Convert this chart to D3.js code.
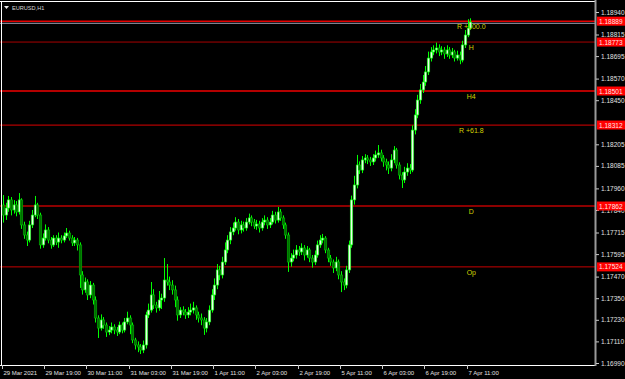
<!DOCTYPE html>
<html><head><meta charset="utf-8">
<script src="https://cdn.jsdelivr.net/npm/d3@7"></script>
<style>html,body{margin:0;padding:0;background:#000;overflow:hidden}</style>
</head><body>
<svg id="c" width="625" height="379"></svg>
<script>
const symbol = "EURUSD,H1";
const firstOpen = 1.17868;
const closes = [
1.17812,1.17851,1.17896,1.17840,1.17868,1.17829,1.17896,1.17757,1.17701,1.17673,
1.17757,1.17812,1.17868,1.17812,1.17646,1.17684,1.17729,1.17673,1.17646,1.17684,
1.17662,1.17684,1.17673,1.17696,1.17712,1.17684,1.17657,1.17673,1.17646,1.17479,
1.17396,1.17440,1.17368,1.17423,1.17340,1.17240,1.17184,1.17229,1.17201,1.17162,
1.17173,1.17190,1.17173,1.17162,1.17201,1.17173,1.17218,1.17240,1.17201,1.17118,
1.17090,1.17079,1.17062,1.17090,1.17257,1.17284,1.17368,1.17312,1.17296,1.17340,
1.17351,1.17451,1.17440,1.17423,1.17396,1.17340,1.17257,1.17284,1.17273,1.17257,
1.17273,1.17284,1.17296,1.17257,1.17240,1.17229,1.17184,1.17218,1.17284,1.17368,
1.17423,1.17507,1.17479,1.17551,1.17618,1.17673,1.17718,1.17740,1.17773,1.17729,
1.17757,1.17740,1.17773,1.17796,1.17773,1.17751,1.17762,1.17740,1.17773,1.17784,
1.17757,1.17773,1.17812,1.17784,1.17829,1.17796,1.17757,1.17701,1.17551,1.17573,
1.17590,1.17618,1.17607,1.17629,1.17590,1.17618,1.17573,1.17551,1.17590,1.17646,
1.17673,1.17684,1.17618,1.17573,1.17551,1.17518,1.17551,1.17479,1.17440,1.17423,
1.17507,1.17646,1.17896,1.17979,1.18090,1.18062,1.18118,1.18129,1.18118,1.18107,
1.18129,1.18146,1.18157,1.18129,1.18107,1.18090,1.18073,1.18118,1.18173,1.18090,
1.18034,1.18007,1.18051,1.18073,1.18062,1.18284,1.18368,1.18451,1.18507,1.18551,
1.18607,1.18684,1.18718,1.18729,1.18740,1.18718,1.18729,1.18707,1.18729,1.18701,
1.18718,1.18684,1.18701,1.18673,1.18757,1.18812,1.18851,1.18884];
const highs = [
1.17923,1.17880,1.17918,1.17912,1.17895,1.17890,1.17934,1.17905,1.17775,1.17720,
1.17780,1.17840,1.17918,1.17880,1.17825,1.17710,1.17760,1.17745,1.17690,1.17700,
1.17700,1.17715,1.17700,1.17715,1.17740,1.17725,1.17700,1.17690,1.17685,1.17660,
1.17500,1.17465,1.17455,1.17445,1.17435,1.17360,1.17255,1.17260,1.17245,1.17215,
1.17195,1.17215,1.17205,1.17190,1.17220,1.17215,1.17240,1.17275,1.17255,1.17215,
1.17130,1.17110,1.17095,1.17115,1.17275,1.17320,1.17440,1.17400,1.17330,1.17390,
1.17375,1.17573,1.17540,1.17470,1.17450,1.17420,1.17360,1.17300,1.17305,1.17290,
1.17300,1.17320,1.17330,1.17310,1.17275,1.17265,1.17245,1.17240,1.17310,1.17400,
1.17460,1.17540,1.17530,1.17580,1.17660,1.17700,1.17745,1.17770,1.17800,1.17790,
1.17780,1.17775,1.17795,1.17820,1.17810,1.17790,1.17785,1.17780,1.17795,1.17810,
1.17800,1.17795,1.17835,1.17830,1.17857,1.17845,1.17810,1.17770,1.17715,1.17600,
1.17620,1.17645,1.17640,1.17655,1.17645,1.17640,1.17630,1.17590,1.17615,1.17670,
1.17700,1.17707,1.17695,1.17630,1.17590,1.17565,1.17580,1.17565,1.17500,1.17460,
1.17530,1.17670,1.17920,1.18030,1.18146,1.18110,1.18140,1.18150,1.18145,1.18135,
1.18150,1.18170,1.18201,1.18175,1.18145,1.18125,1.18110,1.18150,1.18195,1.18185,
1.18105,1.18050,1.18080,1.18100,1.18095,1.18310,1.18400,1.18480,1.18540,1.18590,
1.18640,1.18720,1.18745,1.18755,1.18770,1.18760,1.18750,1.18745,1.18755,1.18745,
1.18740,1.18730,1.18725,1.18720,1.18780,1.18840,1.18900,1.18905];
const lows = [
1.17770,1.17785,1.17830,1.17810,1.17820,1.17805,1.17815,1.17735,1.17680,1.17640,
1.17660,1.17740,1.17800,1.17790,1.17625,1.17630,1.17670,1.17655,1.17625,1.17635,
1.17645,1.17630,1.17655,1.17660,1.17685,1.17670,1.17640,1.17640,1.17615,1.17407,
1.17370,1.17380,1.17340,1.17350,1.17315,1.17215,1.17129,1.17170,1.17180,1.17135,
1.17145,1.17155,1.17150,1.17140,1.17150,1.17155,1.17160,1.17205,1.17150,1.17100,
1.17065,1.17050,1.17040,1.17045,1.17070,1.17240,1.17270,1.17290,1.17270,1.17280,
1.17290,1.17330,1.17420,1.17395,1.17370,1.17300,1.17225,1.17240,1.17255,1.17235,
1.17240,1.17255,1.17265,1.17230,1.17215,1.17200,1.17146,1.17160,1.17200,1.17270,
1.17340,1.17400,1.17450,1.17460,1.17535,1.17600,1.17650,1.17700,1.17725,1.17705,
1.17710,1.17720,1.17725,1.17760,1.17750,1.17735,1.17730,1.17715,1.17725,1.17755,
1.17735,1.17740,1.17760,1.17765,1.17770,1.17780,1.17735,1.17680,1.17496,1.17525,
1.17555,1.17570,1.17585,1.17590,1.17560,1.17575,1.17550,1.17520,1.17535,1.17575,
1.17630,1.17655,1.17600,1.17550,1.17530,1.17490,1.17500,1.17455,1.17384,1.17395,
1.17405,1.17490,1.17630,1.17870,1.17960,1.18040,1.18045,1.18100,1.18095,1.18085,
1.18090,1.18110,1.18130,1.18110,1.18080,1.18060,1.18040,1.18055,1.18100,1.18070,
1.18010,1.17962,1.17990,1.18030,1.18040,1.18050,1.18260,1.18350,1.18430,1.18490,
1.18530,1.18590,1.18665,1.18700,1.18710,1.18695,1.18700,1.18680,1.18690,1.18680,
1.18685,1.18665,1.18670,1.18650,1.18660,1.18740,1.18800,1.18840];
const opens = [firstOpen].concat(closes.slice(0, -1));

const priceTicks = [1.18940,1.18815,1.18695,1.18570,1.18450,1.18205,1.18085,
  1.17960,1.17840,1.17715,1.17595,1.17470,1.17350,1.17230,1.17110,1.16990];
const timeLabels = ["29 Mar 2021","29 Mar 19:00","30 Mar 11:00","31 Mar 03:00","31 Mar 19:00",
  "1 Apr 11:00","2 Apr 03:00","2 Apr 19:00","5 Apr 11:00","6 Apr 03:00","6 Apr 19:00","7 Apr 11:00"];
const timeTickBars = [0,16,32,48,64,80,96,112,128,144,160,176];

const levelValues = [1.18889,1.18773,1.18501,1.18312,1.17862,1.17524];
const levelNames  = ["R +100.0","H","H4","R +61.8","D","Op"];
const levelColors = ["#e80000","#a80000","#f00000","#b00000","#8c0000","#c80000"];
const levelWidths = [1.5,1,1.5,1.2,2,1];
const bidPrice = 1.18880;

const W = 625, H = 379;
const plotRight = 595, plotBottom = 365;
const svg = d3.select("#c");
svg.append("rect").attr("width", W).attr("height", H).attr("fill", "#000");

const x = d3.scaleLinear().domain([0, closes.length - 1]).range([3, 470.3]);
const y = d3.scaleLinear().domain([1.16990, 1.18940]).range([363, 12]);

const font = "'Liberation Sans', Arial, sans-serif";

// level lines
const lv = levelValues.map((v, i) => ({v, name: levelNames[i], color: levelColors[i], w: levelWidths[i]}));
svg.append("g").selectAll("line").data(lv).join("line")
  .attr("x1", 0).attr("x2", plotRight)
  .attr("y1", d => y(d.v)).attr("y2", d => y(d.v))
  .attr("stroke", d => d.color).attr("stroke-width", d => d.w);

// bid line
svg.append("line").attr("x1", 0).attr("x2", plotRight)
  .attr("y1", y(bidPrice) + 0.5).attr("y2", y(bidPrice) + 0.5)
  .attr("stroke", "#a0a0b4").attr("stroke-width", 1);

// candles
const bars = closes.map((c, i) => ({i, o: opens[i], c, h: highs[i], l: lows[i]}));
const g = svg.append("g");
g.selectAll("line.wick").data(bars).join("line").attr("class", "wick")
  .attr("x1", d => Math.round(x(d.i)) + 0.5).attr("x2", d => Math.round(x(d.i)) + 0.5)
  .attr("y1", d => y(d.h)).attr("y2", d => y(d.l))
  .attr("stroke", "#00ff00").attr("stroke-width", 1);
g.selectAll("rect.body").data(bars).join("rect").attr("class", "body")
  .attr("x", d => Math.round(x(d.i)) - 0.75)
  .attr("width", 2.5)
  .attr("y", d => y(Math.max(d.o, d.c)))
  .attr("height", d => Math.max(1, Math.abs(y(d.o) - y(d.c))))
  .attr("fill", d => d.c >= d.o ? "#eaffea" : "#006e00")
  .attr("stroke", d => d.c >= d.o ? "#00ff00" : "#00b400")
  .attr("stroke-width", 0.6);

// level labels
svg.append("g").selectAll("text").data(lv).join("text")
  .attr("x", x(closes.length - 1) + 1).attr("y", d => y(d.v) + 8)
  .attr("text-anchor", "middle")
  .attr("font-family", font).attr("font-size", 7)
  .attr("fill", "#d0d000").text(d => d.name);

// frame
svg.append("line").attr("x1", 0).attr("x2", plotRight).attr("y1", 1.5).attr("y2", 1.5).attr("stroke", "#fff");
svg.append("line").attr("x1", 1.5).attr("x2", 1.5).attr("y1", 1).attr("y2", plotBottom).attr("stroke", "#fff");
svg.append("line").attr("x1", 0).attr("x2", plotRight).attr("y1", plotBottom + 0.5).attr("y2", plotBottom + 0.5).attr("stroke", "#fff");
svg.append("line").attr("x1", plotRight + 0.5).attr("x2", plotRight + 0.5).attr("y1", 0).attr("y2", plotBottom + 1).attr("stroke", "#9a9a9a").attr("stroke-width", 2);

// price axis
const ya = svg.append("g").attr("transform", `translate(${plotRight + 1},0)`)
  .call(d3.axisRight(y).tickValues(priceTicks).tickFormat(d3.format(".5f")).tickSize(3).tickPadding(2));
ya.select(".domain").remove();
ya.selectAll("line").attr("stroke", "#c8c8c8");
ya.selectAll("text").attr("fill", "#e0e0e0").attr("font-family", font).attr("font-size", 6.5);

// price level boxes
const pb = svg.append("g").selectAll("g").data(lv).join("g")
  .attr("transform", d => `translate(597,${y(d.v)})`);
pb.append("rect").attr("x", 0).attr("y", -4.5).attr("width", 30).attr("height", 9).attr("fill", "#ff0000");
pb.append("text").attr("x", 2).attr("y", 2.5).attr("font-family", font).attr("font-size", 6.5)
  .attr("fill", "#ffe6e6").text(d => d3.format(".5f")(d.v));

// time axis
const tg = svg.append("g").selectAll("g").data(timeTickBars.map((b, i) => ({b, t: timeLabels[i]}))).join("g")
  .attr("transform", d => `translate(${Math.round(x(d.b) - 1) + 0.5},${plotBottom})`);
tg.append("line").attr("y1", 0).attr("y2", 4).attr("stroke", "#c8c8c8");
tg.append("text").attr("x", 1).attr("y", 10).attr("font-family", font).attr("font-size", 6)
  .attr("fill", "#e0e0e0").text(d => d.t);

// symbol caption
svg.append("path").attr("d", "M4,6 L9,6 L6.5,9 Z").attr("fill", "#e8e8e8");
svg.append("text").attr("x", 12).attr("y", 9.5).attr("font-family", font).attr("font-size", 5.6)
  .attr("fill", "#d8d8d8").text(symbol);
</script>
</body></html>
